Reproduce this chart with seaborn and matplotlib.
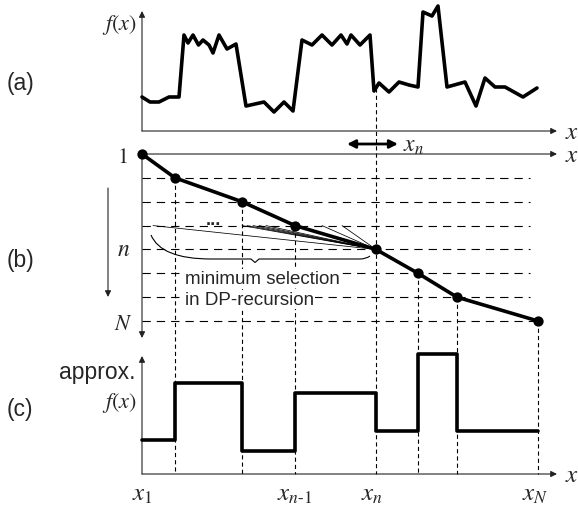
import numpy as np
import matplotlib
matplotlib.use("Agg")
import matplotlib.pyplot as plt
import seaborn as sns
from matplotlib.path import Path
from matplotlib.patches import PathPatch

sns.set_style("white")
plt.rcParams["font.family"] = ["Liberation Sans", "DejaVu Sans"]
plt.rcParams["mathtext.fontset"] = "stix"
plt.rcParams["lines.scale_dashes"] = False

# ---------------- data ----------------
# (a) measured signal f(x): positions along x and heights above the axis
sig_x = [0, 8, 17, 27, 37, 42, 46, 51, 56.5, 61, 67, 71, 77, 85, 94, 104, 122, 132,
         142, 151, 160, 170, 180, 190, 199, 205, 209, 218, 228, 232, 237, 247, 257,
         267, 276, 281, 290, 296, 305, 323, 334, 343, 353, 363, 381, 395]
sig_y = [34, 29, 29, 34, 34, 96, 88, 96, 86, 91, 86, 78, 96, 82, 87, 25, 29, 19,
         29, 20, 91, 86, 96, 86, 96, 87, 96, 86, 96, 40, 48, 39, 49, 46, 44, 119,
         115, 125, 44, 49, 25, 53, 44, 44, 34, 43]

# (b) DP path: breakpoint positions x_1..x_N and row index n
break_x = [0, 33, 100, 153, 234, 276, 315, 396]
row_n = [1, 2, 3, 4, 5, 6, 7, 8]
current = 4                       # index of x_n in break_x
fan_from = [11, 100, 105, 111, 117, 124, 180, 200]   # candidate x on row n-1

# (c) piecewise-constant approximation levels per segment
levels = [34, 91, 23, 81, 43, 120, 43]

# bottom tick labels
tick_pos = [0, 153, 234, 396]
tick_lab = [r"$x_1$", r"$x_{n\text{-}1}$", r"$x_n$", r"$x_N$"]

# ---------------- layout (canvas units) ----------------
A_BASE, A_TOP = 132, 10
B_TOP, B_STEP = 155, (322 - 155) / 7
C_BASE, C_TOP = 475, 355
X_END = 417

def ya(v):
    return A_BASE - np.asarray(v, float)

def yb(n):
    return B_TOP + (np.asarray(n, float) - 1) * B_STEP

def yc(v):
    return C_BASE - np.asarray(v, float)

fig = plt.figure(figsize=(5.78, 5.06), dpi=100)
ax = fig.add_axes([0, 0, 1, 1])
ax.set_xlim(-142, 436)
ax.set_ylim(506, 0)
ax.axis("off")

arrow_kw = dict(arrowstyle="-|>", lw=0.8, color="#222222", mutation_scale=9,
                shrinkA=0, shrinkB=0)

def axis_arrow(x0, y0, x1, y1):
    ax.annotate("", xy=(x1, y1), xytext=(x0, y0), arrowprops=arrow_kw)

# axes
axis_arrow(0, A_BASE, X_END - 2, A_BASE)
axis_arrow(0, A_BASE, 0, A_TOP + 2)
axis_arrow(0, B_TOP, X_END - 2, B_TOP)
axis_arrow(0, B_TOP, 0, 339)
axis_arrow(0, C_BASE, X_END - 2, C_BASE)
axis_arrow(0, C_BASE, 0, C_TOP + 2)
# n arrow
axis_arrow(-34, 189, -34, 298)

# horizontal dashed rows in (b)
for i, n in enumerate(row_n[1:], start=1):
    xe = break_x[-1] if n == row_n[-1] else 388
    ax.hlines(yb(n), 0, xe, colors="black", lw=0.8, linestyles=(0, (6, 4.3)), zorder=1)

# vertical dashed lines
for i in range(1, len(break_x)):
    ytop = yb(row_n[i])
    if i == current:
        ytop = ya(np.interp(break_x[i], sig_x, sig_y))
    ax.vlines(break_x[i], ytop, C_BASE, colors="black", lw=0.8,
              linestyles=(0, (3, 2.2)), zorder=1)

# (a) signal
sns.lineplot(x=sig_x, y=ya(sig_y), sort=False, estimator=None, color="black",
             lw=2.6, ax=ax, zorder=4)

# (b) fan of candidate transitions
xn, yn = break_x[current], yb(row_n[current])
for fx in fan_from:
    ax.plot([fx, xn], [yb(row_n[current] - 1), yn], color="black", lw=0.55, zorder=3)

# (b) optimal path
sns.lineplot(x=break_x, y=yb(row_n), sort=False, estimator=None, color="black",
             lw=2.6, ax=ax, zorder=4)
sns.scatterplot(x=break_x, y=yb(row_n), s=55, color="black", edgecolor="black",
                linewidth=0, ax=ax, zorder=5)

# (c) step approximation
step_x = break_x
step_y = yc(levels + [levels[-1]])
sns.lineplot(x=step_x, y=step_y, sort=False, estimator=None, color="black", lw=2.6,
             drawstyle="steps-post", ax=ax, zorder=4)

# brace under the candidates
bx0, bx1, btip = 9, 228, 113
by0, by_mid = 236, 260
verts = [(bx0, by0), (bx0 + 10, by_mid), (bx0 + 60, by_mid), (btip - 4, by_mid),
         (btip, by_mid + 3.5), (btip + 4, by_mid), (bx1 - 10, by_mid), (bx1 - 4, by_mid),
         (bx1, by_mid - 3)]
codes = [Path.MOVETO, Path.CURVE3, Path.CURVE3, Path.LINETO, Path.LINETO,
         Path.LINETO, Path.LINETO, Path.CURVE3, Path.CURVE3]
ax.add_patch(PathPatch(Path(verts, codes), fill=False, lw=0.8, edgecolor="black", zorder=3))

# double arrow near x_n
ax.annotate("", xy=(xn - 29, 145), xytext=(xn + 22, 145),
            arrowprops=dict(arrowstyle="<|-|>", lw=2.0, color="black",
                            mutation_scale=12, shrinkA=0, shrinkB=0), zorder=6)
ax.text(xn + 27, 146, r"$x_n$", fontsize=17, ha="left", va="center")

# texts
SANS = 16.5
ax.text(-121, 83, "(a)", fontsize=SANS, ha="center", va="center")
ax.text(-121, 260, "(b)", fontsize=SANS, ha="center", va="center")
ax.text(-122, 410, "(c)", fontsize=SANS, ha="center", va="center")
ax.text(-5, 25, r"$f(x)$", fontsize=16, ha="right", va="center")
ax.text(-6, 373, "approx.", fontsize=SANS, ha="right", va="center")
ax.text(-5, 403, r"$f(x)$", fontsize=16, ha="right", va="center")
for yy in (A_BASE, B_TOP, C_BASE):
    ax.text(X_END + 6, yy, r"$x$", fontsize=18, ha="left", va="center")
ax.text(-14, 157, r"$1$", fontsize=16, ha="right", va="center")
ax.text(-12, 250, r"$n$", fontsize=17, ha="right", va="center")
ax.text(-9, 324, r"$N$", fontsize=16, ha="right", va="center")
ax.text(71, 225, "...", fontsize=13, fontweight="bold", ha="center", va="baseline",
        zorder=6)
ax.text(43, 284, "minimum selection", fontsize=13.5, ha="left", va="baseline",
        bbox=dict(facecolor="white", edgecolor="none", pad=0.5), zorder=6)
ax.text(43, 305, "in DP-recursion", fontsize=13.5, ha="left", va="baseline",
        bbox=dict(facecolor="white", edgecolor="none", pad=0.5), zorder=6)
offs = [0, 0, -4, -3]
for p, lab, o in zip(tick_pos, tick_lab, offs):
    ax.text(p + o, 494, lab, fontsize=18, ha="center", va="center")

fig.savefig("out.png", dpi=100)
